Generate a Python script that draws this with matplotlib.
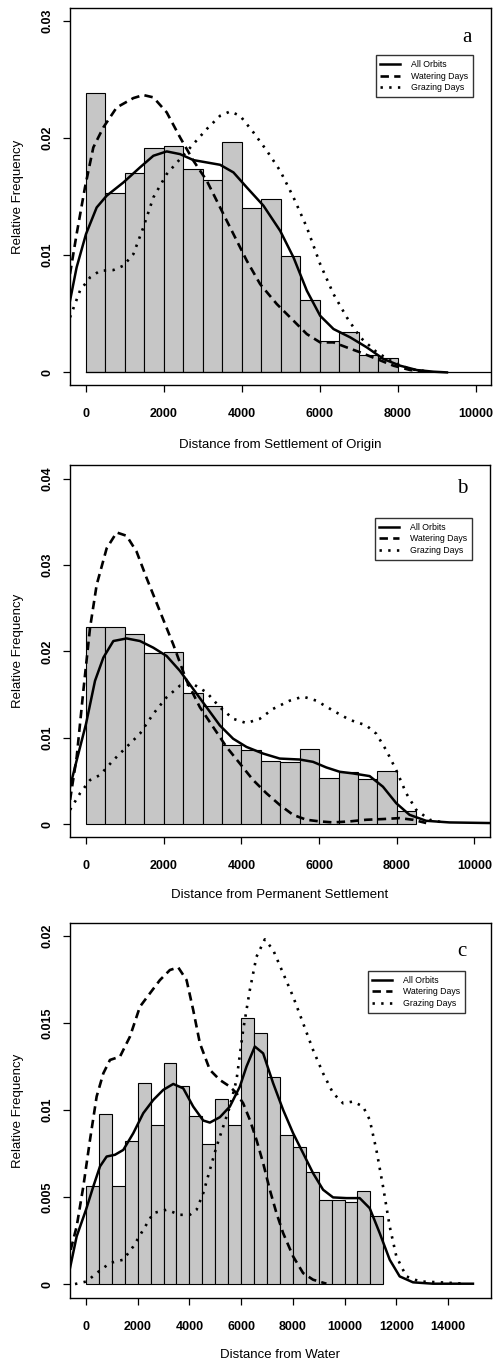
import matplotlib
matplotlib.use("Agg")
import matplotlib.pyplot as plt
import numpy as np

plt.rcParams['font.family'] = ['Liberation Sans', 'DejaVu Sans']

legend_names = ["All Orbits", "Watering Days", "Grazing Days"]
panel_letters = ["a", "b", "c"]
xlabels = ["Distance from Settlement of Origin",
           "Distance from Permanent Settlement",
           "Distance from Water"]

# panel a: distance from settlement of origin
a_bins = np.arange(0, 8000, 500)
a_hist = [0.0238, 0.01527, 0.01703, 0.01914, 0.01931, 0.01734, 0.01643, 0.01965,
          0.01402, 0.01481, 0.00989, 0.0062, 0.00264, 0.00341, 0.00148, 0.00119]
a_all_x = [-410, -240, 0, 274, 530, 958, 1386, 1728, 2070, 2412, 2754, 3097, 3439,
           3781, 4123, 4551, 4979, 5321, 5663, 6005, 6347, 6775, 7203, 7630, 8058,
           8486, 8914, 9256]
a_all_y = [0.0061, 0.00896, 0.0118, 0.01407, 0.01507, 0.0162, 0.01749, 0.01848,
           0.01885, 0.01862, 0.01811, 0.01791, 0.01771, 0.01706, 0.01578, 0.01422,
           0.01208, 0.00981, 0.00697, 0.00483, 0.0037, 0.00299, 0.00213, 0.00114,
           0.00057, 0.0002, 0.00006, 0.0]
a_wat_x = [-410, -240, -26, 188, 445, 787, 1215, 1471, 1728, 2070, 2412, 2754, 3097,
           3439, 3781, 4123, 4466, 4893, 5321, 5663, 6005, 6347, 6689, 7032, 7459,
           7887, 8315, 8743]
a_wat_y = [0.00839, 0.0118, 0.01578, 0.01919, 0.0209, 0.0226, 0.0234, 0.02366,
           0.02346, 0.02218, 0.02005, 0.01806, 0.01635, 0.01407, 0.0118, 0.00953,
           0.00753, 0.00583, 0.00441, 0.00327, 0.00256, 0.00256, 0.00213, 0.00171,
           0.00114, 0.00057, 0.0002, 0.00006]
a_gra_x = [-410, -154, 103, 359, 701, 958, 1215, 1471, 1728, 2070, 2412, 2754, 3097,
           3439, 3696, 3952, 4294, 4637, 4979, 5321, 5663, 6005, 6347, 6689, 7032,
           7459, 7887, 8315, 8743]
a_gra_y = [0.00469, 0.00697, 0.0081, 0.00867, 0.00873, 0.0091, 0.01009, 0.01237,
           0.01493, 0.01692, 0.0182, 0.01948, 0.02076, 0.02189, 0.02226, 0.02189,
           0.02047, 0.01891, 0.0172, 0.01493, 0.01237, 0.00924, 0.00668, 0.00469,
           0.00299, 0.00171, 0.00085, 0.00028, 0.00009]

# panel b: distance from permanent settlement
b_bins = np.arange(0, 8500, 500)
b_hist = [0.02282, 0.02282, 0.02198, 0.01987, 0.01994, 0.01515, 0.01365, 0.00913,
          0.00863, 0.00729, 0.00717, 0.00874, 0.00537, 0.00606, 0.00518, 0.00614,
          0.00153]
b_all_x = [-411, -240, 0, 231, 446, 703, 1045, 1388, 1731, 2074, 2416, 2759, 3102,
           3445, 3787, 4130, 4559, 4987, 5501, 5844, 6187, 6530, 6872, 7301, 7644,
           7986, 8329, 8757, 9357, 10386]
b_all_y = [0.00433, 0.0074, 0.01162, 0.0166, 0.01929, 0.02121, 0.02151, 0.02121,
           0.02044, 0.01948, 0.01776, 0.01565, 0.01354, 0.01143, 0.00989, 0.00894,
           0.00817, 0.00759, 0.00748, 0.00721, 0.00656, 0.00606, 0.00587, 0.00556,
           0.00433, 0.00242, 0.00107, 0.00038, 0.00019, 0.00012]
b_wat_x = [-411, -240, -69, 103, 274, 531, 788, 1045, 1302, 1560, 1902, 2245, 2588,
           2931, 3273, 3616, 3959, 4302, 4644, 4987, 5330, 5673, 6015, 6358, 6787,
           7215, 7644, 8072, 8415, 8757]
b_wat_y = [0.0028, 0.00779, 0.01546, 0.02274, 0.02773, 0.03195, 0.03379, 0.0334,
           0.03156, 0.0285, 0.02466, 0.02082, 0.01661, 0.01354, 0.01124, 0.00894,
           0.00702, 0.0051, 0.00357, 0.00222, 0.00107, 0.0005, 0.00031, 0.00019,
           0.00031, 0.0005, 0.00058, 0.00069, 0.0005, 0.00012]
b_gra_x = [-411, -154, 103, 360, 703, 1045, 1388, 1731, 2074, 2416, 2759, 3102, 3445,
           3787, 4130, 4473, 4816, 5244, 5587, 5930, 6358, 6787, 7215, 7472, 7729,
           7986, 8243, 8500, 8843, 9271]
b_gra_y = [0.00165, 0.00357, 0.0051, 0.00568, 0.0074, 0.00894, 0.01047, 0.01277,
           0.01469, 0.01603, 0.01622, 0.01526, 0.01354, 0.0122, 0.0117, 0.0122,
           0.01335, 0.0143, 0.01477, 0.0143, 0.01315, 0.01208, 0.01143, 0.01047,
           0.00855, 0.00625, 0.00357, 0.00165, 0.0005, 0.00012]

# panel c: distance from water
c_bins = np.arange(0, 11500, 500)
c_hist = [0.00565, 0.00978, 0.00565, 0.00823, 0.01154, 0.00915, 0.01269, 0.01141,
          0.00967, 0.00806, 0.01062, 0.00915, 0.01527, 0.01445, 0.01192, 0.00854,
          0.00787, 0.00643, 0.00484, 0.00484, 0.00471, 0.00532, 0.00389]
c_all_x = [-618, -361, 0, 283, 541, 799, 1121, 1443, 1829, 2215, 2602, 2988, 3375,
           3761, 4147, 4534, 4791, 5178, 5564, 5951, 6208, 6530, 6852, 7239, 7625,
           8011, 8398, 8784, 9171, 9557, 10072, 10587, 10974, 11360, 11747, 12133,
           12648, 13421, 14967]
c_all_y = [0.00092, 0.00274, 0.00427, 0.00561, 0.00676, 0.00733, 0.00743, 0.00771,
           0.00867, 0.00982, 0.01058, 0.01116, 0.0115, 0.01125, 0.0102, 0.0094,
           0.00928, 0.00959, 0.0102, 0.01135, 0.0125, 0.01365, 0.01326, 0.01154,
           0.01001, 0.00867, 0.00752, 0.00637, 0.00542, 0.00498, 0.00494, 0.00494,
           0.00436, 0.00293, 0.0014, 0.00044, 0.0001, 0.00002, 0.00002]
c_wat_x = [-592, -361, -103, 155, 412, 670, 927, 1314, 1700, 2086, 2473, 2859, 3246,
           3568, 3890, 4147, 4405, 4791, 5178, 5564, 5822, 6079, 6337, 6594, 6852,
           7110, 7367, 7625, 8011, 8398, 8784, 9299]
c_wat_y = [0.00197, 0.00331, 0.00561, 0.00829, 0.01078, 0.01211, 0.01288, 0.01307,
           0.01422, 0.01594, 0.01671, 0.01747, 0.01805, 0.0182, 0.01747, 0.01575,
           0.01384, 0.01231, 0.01173, 0.01135, 0.01097, 0.01039, 0.00944, 0.00829,
           0.00695, 0.00542, 0.00408, 0.00293, 0.00159, 0.00063, 0.00025, 0.00002]
c_gra_x = [-425, 26, 412, 927, 1443, 1829, 2215, 2602, 3117, 3632, 4018, 4276, 4534,
           4791, 5049, 5307, 5564, 5822, 6079, 6337, 6594, 6916, 7239, 7625, 8011,
           8398, 8784, 9171, 9557, 9944, 10330, 10717, 10974, 11232, 11489, 11747,
           12004, 12390, 12905, 13678, 14709]
c_gra_y = [0.0, 0.00015, 0.00063, 0.00121, 0.0014, 0.00216, 0.00312, 0.00408,
           0.00427, 0.00398, 0.00398, 0.00427, 0.00522, 0.00656, 0.0079, 0.00905,
           0.0102, 0.01173, 0.0146, 0.0169, 0.01881, 0.01981, 0.0192, 0.01786,
           0.01652, 0.01499, 0.01345, 0.01211, 0.01097, 0.01039, 0.01049, 0.0102,
           0.00944, 0.00771, 0.00561, 0.00331, 0.00159, 0.00044, 0.00015, 0.0001,
           0.00002]

a_yticks = [0, 0.01, 0.02, 0.03]
b_yticks = [0, 0.01, 0.02, 0.03, 0.04]
c_yticks = [0, 0.005, 0.01, 0.015, 0.02]

panels = [
    dict(bins=a_bins, hist=a_hist,
         curves=[(a_all_x, a_all_y), (a_wat_x, a_wat_y), (a_gra_x, a_gra_y)],
         yticks=a_yticks, ylabels=["0", "0.01", "0.02", "0.03"],
         xticks=np.arange(0, 10001, 2000),
         xlim=(-410, 10385), ylim=(-0.00108, 0.03108),
         rect=[0.1414, 0.7179, 0.8505, 0.2762],
         leg=(0.957, 0.875), letter=(0.943, 0.923), xlab_y=-0.159, baseline=True),
    dict(bins=b_bins, hist=b_hist,
         curves=[(b_all_x, b_all_y), (b_wat_x, b_wat_y), (b_gra_x, b_gra_y)],
         yticks=b_yticks, ylabels=["0", "0.01", "0.02", "0.03", "0.04"],
         xticks=np.arange(0, 10001, 2000),
         xlim=(-413, 10400), ylim=(-0.0015, 0.0416),
         rect=[0.1414, 0.3868, 0.8485, 0.2725],
         leg=(0.957, 0.8575), letter=(0.933, 0.938), xlab_y=-0.156, baseline=False),
    dict(bins=c_bins, hist=c_hist,
         curves=[(c_all_x, c_all_y), (c_wat_x, c_wat_y), (c_gra_x, c_gra_y)],
         yticks=c_yticks, ylabels=["0", "0.005", "0.01", "0.015", "0.02"],
         xticks=np.arange(0, 14001, 2000),
         xlim=(-619, 15665), ylim=(-0.0008, 0.02075),
         rect=[0.1414, 0.0491, 0.8505, 0.2747],
         leg=(0.938, 0.872), letter=(0.931, 0.923), xlab_y=-0.152, baseline=False),
]

styles = [dict(linestyle="-", lw=1.8),
          dict(linestyle=(0, (3.2, 2.0)), lw=1.9),
          dict(linestyle=(0, (0.9, 2.4)), lw=1.9)]

fig = plt.figure(figsize=(4.95, 13.65), dpi=100)

for i, p in enumerate(panels):
    ax = fig.add_axes(p["rect"])
    ax.bar(p["bins"], p["hist"], width=500, align="edge", color="#c6c6c6",
           edgecolor="black", linewidth=0.8, zorder=1)
    if p["baseline"]:
        ax.axhline(0, xmin=(0 - p["xlim"][0]) / (p["xlim"][1] - p["xlim"][0]),
                   color="black", lw=0.9, zorder=1)
    for (cx, cy), st, name in zip(p["curves"], styles, legend_names):
        ax.plot(cx, cy, color="black", label=name, zorder=3, **st)
    ax.set_xlim(p["xlim"])
    ax.set_ylim(p["ylim"])
    ax.set_xticks(p["xticks"])
    ax.set_xticklabels([str(v) for v in p["xticks"]], fontweight="bold")
    ax.set_yticks(p["yticks"])
    ax.set_yticklabels(p["ylabels"], rotation=90, va="center", fontweight="bold")
    ax.tick_params(direction="out", length=5, width=0.9, labelsize=9, pad=7)
    ax.tick_params(axis="x", pad=11.5)
    for s in ax.spines.values():
        s.set_linewidth(1.0)
    ax.set_ylabel("Relative Frequency", fontsize=9.5)
    ax.yaxis.set_label_coords(-0.1235, 0.5)
    ax.yaxis.label.set_va("center")
    ax.set_xlabel(xlabels[i], fontsize=9.5)
    ax.xaxis.set_label_coords(0.5, p["xlab_y"])
    ax.xaxis.label.set_va("center")
    ax.text(p["letter"][0], p["letter"][1], panel_letters[i], transform=ax.transAxes,
            ha="center", va="center", fontsize=15, family="Liberation Serif")
    leg = ax.legend(loc="upper right", bbox_to_anchor=p["leg"], fontsize=6.3,
                    frameon=True, fancybox=False, edgecolor="black",
                    handlelength=2.2, handletextpad=1.3, borderpad=0.55,
                    labelspacing=0.3, borderaxespad=0)
    leg.get_frame().set_linewidth(1.0)

fig.savefig("out.png", dpi=100)
